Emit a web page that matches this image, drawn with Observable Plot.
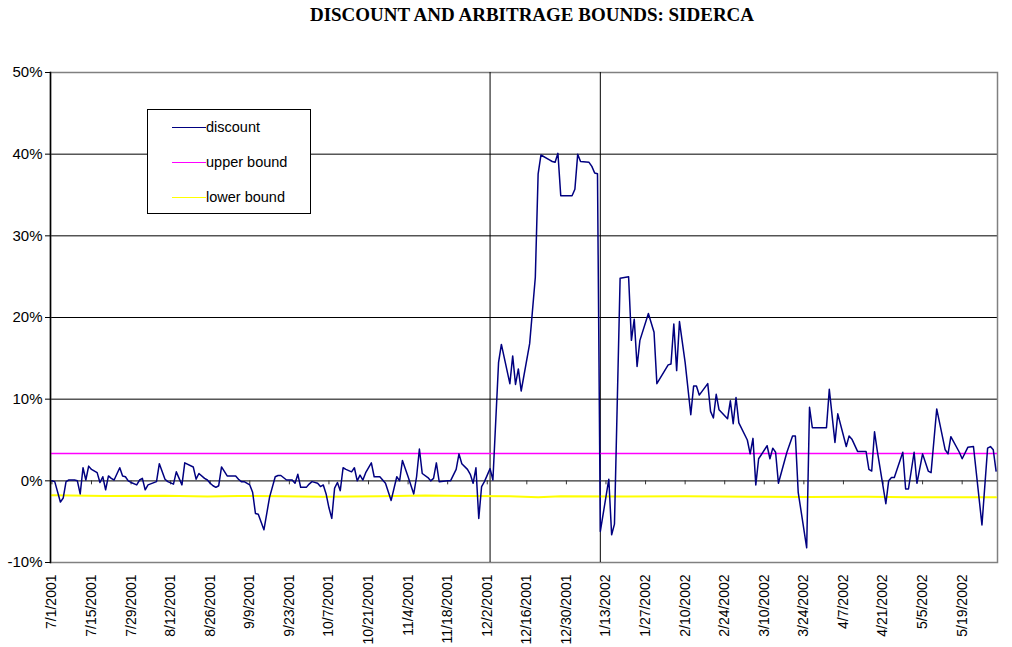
<!DOCTYPE html>
<html>
<head>
<meta charset="utf-8">
<script src="https://cdn.jsdelivr.net/npm/d3@7"></script>
<script src="https://cdn.jsdelivr.net/npm/@observablehq/plot@0.6"></script>
<style>
  body { margin: 0; background: #fff; }
  #wrap { position: relative; width: 1012px; height: 647px; overflow: hidden; }
  #title { box-sizing: border-box; width: 1012px; height: 40px; padding-left: 52px; padding-top: 5px;
           font-family: "Liberation Serif", "Times New Roman", serif; font-weight: bold; font-size: 19px;
           line-height: 20px; text-align: center; color: #000; }
  #legend { position: absolute; left: 147px; top: 109px; width: 164px; height: 105px;
            border: 1px solid #000; background: #fff; box-sizing: border-box;
            font-family: "Liberation Sans", Arial, sans-serif; font-size: 14.5px; color: #000; }
  .sw { position: absolute; left: 24px; width: 34px; height: 0; }
  .lb { position: absolute; left: 58px; line-height: 16px; }
  svg { display: block; }
</style>
</head>
<body>
<div id="wrap">
  <div id="title">DISCOUNT AND ARBITRAGE BOUNDS: SIDERCA</div>
  <div id="chart"></div>
  <div id="legend"></div>
</div>
<script>
// ---------- data (values in percent) ----------
const discountDates = [
  "2001-07-01","2001-07-02","2001-07-04","2001-07-05","2001-07-06","2001-07-07","2001-07-09","2001-07-10",
  "2001-07-11","2001-07-12","2001-07-13","2001-07-14","2001-07-15","2001-07-17","2001-07-18","2001-07-19",
  "2001-07-20","2001-07-21","2001-07-22","2001-07-23","2001-07-25","2001-07-26","2001-07-27","2001-07-28",
  "2001-07-29","2001-07-31","2001-08-01","2001-08-02","2001-08-03","2001-08-04","2001-08-07","2001-08-08",
  "2001-08-10","2001-08-11","2001-08-13","2001-08-14","2001-08-16","2001-08-17","2001-08-20","2001-08-21",
  "2001-08-22","2001-08-24","2001-08-25","2001-08-26","2001-08-27","2001-08-28","2001-08-29","2001-08-30",
  "2001-09-01","2001-09-04","2001-09-05","2001-09-06","2001-09-07","2001-09-09","2001-09-10","2001-09-11",
  "2001-09-12","2001-09-14","2001-09-16","2001-09-18","2001-09-19","2001-09-20","2001-09-22","2001-09-24",
  "2001-09-25","2001-09-26","2001-09-27","2001-09-29","2001-09-30","2001-10-01","2001-10-03","2001-10-04",
  "2001-10-05","2001-10-06","2001-10-07","2001-10-08","2001-10-09","2001-10-10","2001-10-11","2001-10-12",
  "2001-10-13","2001-10-15","2001-10-16","2001-10-17","2001-10-18","2001-10-19","2001-10-20","2001-10-22",
  "2001-10-23","2001-10-25","2001-10-27","2001-10-29","2001-10-31","2001-11-01","2001-11-02","2001-11-04",
  "2001-11-06","2001-11-07","2001-11-08","2001-11-09","2001-11-11","2001-11-12","2001-11-13","2001-11-14",
  "2001-11-15","2001-11-18","2001-11-19","2001-11-20","2001-11-21","2001-11-22","2001-11-23","2001-11-25",
  "2001-11-26","2001-11-27","2001-11-28","2001-11-29","2001-11-30","2001-12-01","2001-12-03","2001-12-04",
  "2001-12-06","2001-12-07","2001-12-10","2001-12-11","2001-12-12","2001-12-13","2001-12-14","2001-12-17",
  "2001-12-19","2001-12-20","2001-12-21","2001-12-24","2001-12-25","2001-12-26","2001-12-27","2001-12-28",
  "2002-01-01","2002-01-02","2002-01-03","2002-01-04","2002-01-07","2002-01-08","2002-01-09","2002-01-10",
  "2002-01-11","2002-01-14","2002-01-15","2002-01-16","2002-01-18","2002-01-21","2002-01-22","2002-01-23",
  "2002-01-24","2002-01-25","2002-01-28","2002-01-30","2002-01-31","2002-02-04","2002-02-05","2002-02-06",
  "2002-02-07","2002-02-08","2002-02-10","2002-02-12","2002-02-13","2002-02-14","2002-02-15","2002-02-18",
  "2002-02-19","2002-02-20","2002-02-21","2002-02-22","2002-02-25","2002-02-26","2002-02-27","2002-02-28",
  "2002-03-01","2002-03-04","2002-03-05","2002-03-06","2002-03-07","2002-03-08","2002-03-11","2002-03-12",
  "2002-03-13","2002-03-14","2002-03-15","2002-03-18","2002-03-20","2002-03-21","2002-03-22","2002-03-25",
  "2002-03-26","2002-03-27","2002-04-01","2002-04-02","2002-04-04","2002-04-05","2002-04-08","2002-04-09",
  "2002-04-10","2002-04-12","2002-04-15","2002-04-16","2002-04-17","2002-04-18","2002-04-19","2002-04-22",
  "2002-04-23","2002-04-24","2002-04-25","2002-04-28","2002-04-29","2002-04-30","2002-05-02","2002-05-03",
  "2002-05-05","2002-05-07","2002-05-08","2002-05-10","2002-05-13","2002-05-14","2002-05-15","2002-05-18",
  "2002-05-19","2002-05-21","2002-05-23","2002-05-26","2002-05-28","2002-05-29","2002-05-30","2002-05-31"
];
const discountValues = [
  0.0,-0.1,-2.6,-2.1,-0.1,0.1,0.1,0.0,
  -1.6,1.6,0.1,1.8,1.4,1.0,-0.2,0.5,
  -1.1,0.6,0.3,0.1,1.6,0.6,0.5,0.0,
  -0.2,-0.5,0.1,0.3,-1.1,-0.5,-0.1,2.1,
  0.2,-0.1,-0.4,1.1,-0.5,2.2,1.7,0.2,
  0.9,0.3,0.1,-0.3,-0.6,-0.8,-0.6,1.7,
  0.6,0.6,0.2,-0.1,-0.1,-0.5,-1.4,-4.0,
  -4.1,-6.0,-2.0,0.5,0.65,0.65,0.1,0.1,
  -0.3,0.8,-0.8,-0.8,-0.4,-0.1,-0.3,-0.7,
  -0.5,-1.6,-3.3,-4.6,-0.9,-0.2,-1.2,1.6,
  1.4,1.1,1.6,0.0,0.7,0.1,1.0,2.2,
  0.5,0.5,-0.3,-2.4,0.5,0.0,2.5,0.5,
  -1.6,0.5,3.9,0.9,0.4,0.0,0.3,2.2,
  -0.1,0.0,0.0,0.7,1.4,3.3,2.1,1.4,
  0.8,-0.3,1.6,-4.6,-0.7,-0.1,1.5,0.1,
  14.5,16.7,11.9,15.3,11.8,13.7,11.0,16.8,
  24.9,37.6,39.9,39.3,39.1,39.0,40.1,34.9,
  34.9,35.7,40.0,39.1,39.0,38.5,37.7,37.6,
  -6.2,0.2,-6.6,-5.3,24.8,25.0,17.2,19.8,
  14.0,17.2,20.5,18.2,11.9,14.2,14.3,19.2,
  13.5,19.5,14.5,8.1,11.6,11.6,10.5,11.9,
  8.5,7.7,10.6,8.7,7.6,9.8,7.0,10.2,
  7.1,5.0,3.3,5.2,-0.5,2.7,4.3,2.7,
  4.0,3.5,-0.3,3.5,5.5,5.5,-1.4,-8.2,
  9.0,6.5,6.5,11.2,4.7,8.2,4.2,5.5,
  5.1,3.6,3.6,1.4,1.2,6.0,3.6,-2.8,
  0.0,0.4,0.4,3.5,-1.0,-1.0,3.5,-0.3,
  3.3,1.2,1.0,8.8,3.8,3.3,5.4,3.5,
  2.7,4.1,4.2,-5.4,4.0,4.2,3.8,1.2
];
const upperBound = 3.35;
const lowerDates = [
  "2001-07-01","2001-07-20","2001-08-10","2001-08-25","2001-09-05","2001-09-20","2001-10-05","2001-10-25",
  "2001-11-10","2001-11-25","2001-12-10","2001-12-20","2001-12-28","2002-01-20","2002-02-10","2002-03-05",
  "2002-03-25","2002-04-15","2002-05-01","2002-05-31"
];
const lowerValues = [
  -1.78,-1.85,-1.82,-1.92,-1.85,-1.9,-1.95,-1.88,
  -1.8,-1.85,-1.9,-2.02,-1.9,-1.92,-1.9,-1.95,
  -1.98,-1.95,-2.0,-2.0
];
const eventDates = ["2001-12-03", "2002-01-11"];
const xTickDates = [
  "2001-07-01","2001-07-15","2001-07-29","2001-08-12","2001-08-26","2001-09-09","2001-09-23","2001-10-07",
  "2001-10-21","2001-11-04","2001-11-18","2001-12-02","2001-12-16","2001-12-30","2002-01-13","2002-01-27",
  "2002-02-10","2002-02-24","2002-03-10","2002-03-24","2002-04-07","2002-04-21","2002-05-05","2002-05-19"
];
const yTicks = [-10, 0, 10, 20, 30, 40, 50];
const gridValues = [10, 20, 30, 40];
const seriesNames = ["discount", "upper bound", "lower bound"];
const seriesColors = ["#000080", "#FF00FF", "#FFFF00"];

// ---------- build ----------
const parse = d3.utcParse("%Y-%m-%d");
const discount = discountDates.map((d, i) => ({date: parse(d), value: discountValues[i]}));
const lower = lowerDates.map((d, i) => ({date: parse(d), value: lowerValues[i]}));
const xTicks = xTickDates.map(parse);
const fmt = d3.utcFormat("%-m/%-d/%Y");

const chart = Plot.plot({
  width: 1012,
  height: 607,
  marginTop: 32,
  marginBottom: 85,
  marginLeft: 50,
  marginRight: 15,
  style: {fontFamily: "'Liberation Sans', Arial, sans-serif", fontSize: "14px", background: "white", color: "black", overflow: "visible"},
  x: {type: "utc", domain: [new Date(Date.UTC(2001, 5, 30, 12)), new Date(Date.UTC(2002, 4, 31, 12))]},
  y: {domain: [-10, 50]},
  marks: [
    Plot.ruleY(gridValues, {stroke: "#000", strokeWidth: 1}),
    Plot.frame({stroke: "#808080", strokeWidth: 1.5}),
    Plot.ruleX(eventDates.map(parse), {stroke: "#000", strokeWidth: 1}),
    Plot.ruleY([0], {stroke: "#333", strokeWidth: 1.2}),
    Plot.ruleX(xTicks, {x: d => d, y1: 0, y2: 0, insetBottom: -4, stroke: "#333"}),
    Plot.ruleY([upperBound], {stroke: seriesColors[1], strokeWidth: 1.5}),
    Plot.lineY(lower, {x: "date", y: "value", stroke: seriesColors[2], strokeWidth: 2}),
    Plot.lineY(discount, {x: "date", y: "value", stroke: seriesColors[0], strokeWidth: 1.5}),
    Plot.axisY({ticks: yTicks, tickFormat: d => d + "%", tickSize: 5, tickPadding: 3, fontSize: 15, label: null}),
    Plot.axisX({ticks: xTicks, tickFormat: fmt, tickRotate: -90, tickSize: 0, tickPadding: 12, fontSize: 14, label: null}),
    Plot.frame({anchor: "left", stroke: "#000", strokeWidth: 1.5})
  ]
});
document.getElementById("chart").appendChild(chart);

// legend
const legend = document.getElementById("legend");
seriesNames.forEach((name, i) => {
  const top = 17 + i * 35;
  const sw = document.createElement("div");
  sw.className = "sw";
  sw.style.top = top + "px";
  sw.style.borderTop = "1.5px solid " + seriesColors[i];
  legend.appendChild(sw);
  const lb = document.createElement("div");
  lb.className = "lb";
  lb.style.top = (top - 8) + "px";
  lb.textContent = name;
  legend.appendChild(lb);
});
</script>
</body>
</html>
